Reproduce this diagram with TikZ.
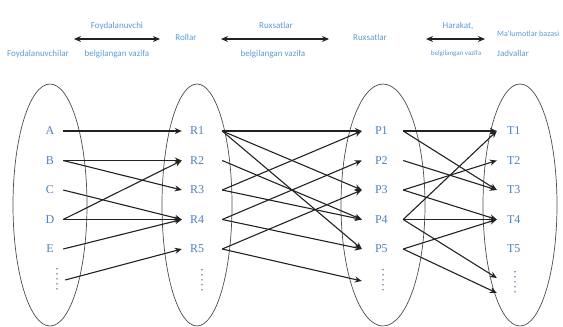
\documentclass[tikz,border=0pt]{standalone}
\usepackage{fontspec}
\setmainfont{Liberation Serif}
\newfontfamily\labelfont{Carlito}
\usetikzlibrary{arrows.meta, positioning}
\definecolor{cblue}{HTML}{4F81BD}
\definecolor{ctop}{HTML}{5B9BD5}
\definecolor{cline}{HTML}{222222}

\begin{document}
\begin{tikzpicture}[
  x=1pt, y=-1pt,
  >={Stealth[length=7pt, width=6pt]},
  set/.style={draw=black!70, line width=0.7pt},
  lbl/.style={font=\fontsize{12}{13}\selectfont, text=cblue, inner ysep=1pt},
  colA/.style={lbl, minimum width=26pt, inner xsep=0pt},
  colR/.style={lbl, text width=24pt, align=left, inner xsep=8pt},
  colP/.style={lbl, text width=15pt, align=left, inner xsep=13pt},
  colT/.style={lbl, text width=14pt, align=left, inner xsep=10pt},
  more/.style={inner sep=0pt, minimum height=26pt},
  dotline/.style={draw=cblue!60!gray, line width=1.5pt, line cap=round,
                  dash pattern=on 0.01pt off 5pt},
  toptxt/.style={font=\labelfont\fontsize{9}{10}\selectfont, text=ctop, inner sep=1pt},
  arr/.style={->, line width=1.1pt, draw=cline},
  duo/.style={<->, line width=1.4pt, draw=cline, >={Stealth[length=7pt, width=6pt]}},
  ]
\useasboundingbox (0,0) rectangle (563,327);

% sets
\draw[set] (50,205) ellipse (37 and 121);
\draw[set] (197,205) ellipse (35 and 121);
\draw[set] (383,205) ellipse (42 and 121);
\draw[set] (520,205) ellipse (37 and 121);

% top row
\node[toptxt] (users) at (38,54) {Foydalanuvchilar};
\node[toptxt] (roles) at (186,37) {Rollar};
\node[toptxt] (perms) at (370,37) {Ruxsatlar};
\node[toptxt, font=\labelfont\fontsize{8}{9}\selectfont, anchor=west] (db) at (496,34) {Ma'lumotlar bazasi};
\node[toptxt, anchor=west] (tables) at (496,53) {Jadvallar};
\coordinate (u1) at (74,39);  \coordinate (u2) at (160,39);
\coordinate (r1) at (221,39); \coordinate (r2) at (329,39);
\coordinate (h1) at (426,39); \coordinate (h2) at (485,39);
\draw[duo] (u1) -- (u2);
\draw[duo] (r1) -- (r2);
\draw[duo] (h1) -- (h2);
\node[toptxt] (ua) at (117,26) {Foydalanuvchi};
\node[toptxt] (ub) at (117,54) {belgilangan vazifa};
\node[toptxt] (ra) at (276,25) {Ruxsatlar};
\node[toptxt] (rb) at (273,54) {belgilangan vazifa};
\node[toptxt] (ha) at (458,26) {Harakat,};
\node[toptxt, font=\labelfont\fontsize{7}{8}\selectfont] (hb) at (456,54) {belgilangan vazifa};

% users
\node[colA] (A) at (50,131) {A};
\node[colA] (B) at (50,160.5) {B};
\node[colA] (C) at (50,190) {C};
\node[colA] (D) at (50,219.5) {D};
\node[colA] (E) at (50,249) {E};
\node[more, minimum width=16pt] (Adots) at (57,280) {};

% roles
\node[colR] (R1) at (202,131) {R1};
\node[colR] (R2) at (202,160.5) {R2};
\node[colR] (R3) at (202,190) {R3};
\node[colR] (R4) at (202,219.5) {R4};
\node[colR] (R5) at (202,249) {R5};
\node[more] (Rdots) at (202,281) {};

% permissions
\node[colP] (P1) at (382.5,131) {P1};
\node[colP] (P2) at (382.5,160.5) {P2};
\node[colP] (P3) at (382.5,190) {P3};
\node[colP] (P4) at (382.5,219.5) {P4};
\node[colP] (P5) at (382.5,249) {P5};
\node[more, minimum width=42pt] (Pdots) at (383,281) {};

% tables
\node[colT] (T1) at (514,131) {T1};
\node[colT] (T2) at (514,160.5) {T2};
\node[colT] (T3) at (514,190) {T3};
\node[colT] (T4) at (514,219.5) {T4};
\node[colT] (T5) at (514,249) {T5};
\node[more, minimum width=36pt] (Tdots) at (515,283) {};

% vertical dots
\draw[dotline] ([yshift=-2pt]Adots.north) -- (Adots.south);
\draw[dotline] ([yshift=-2pt]Rdots.north) -- (Rdots.south);
\draw[dotline] ([yshift=-2pt]Pdots.north) -- (Pdots.south);
\draw[dotline] ([yshift=-2pt]Tdots.north) -- (Tdots.south);

% users -> roles
\draw[arr] (A.east) -- (R1.west);
\draw[arr] (B.east) -- (R2.west);
\draw[arr] (B.east) -- (R3.west);
\draw[arr] (C.east) -- (R4.west);
\draw[arr] (D.east) -- (R2.west);
\draw[arr] (D.east) -- (R4.west);
\draw[arr] (E.east) -- (R4.west);
\draw[arr] (Adots.east) -- (R5.west);

% roles -> permissions
\draw[arr] (R1.east) -- (P1.west);
\draw[arr] (R1.east) -- (P3.west);
\draw[arr] (R1.east) -- (P5.west);
\draw[arr] (R2.east) -- (P4.west);
\draw[arr] (R3.east) -- (P1.west);
\draw[arr] (R3.east) -- (P4.west);
\draw[arr] (R4.east) -- (P2.west);
\draw[arr] (R4.east) -- (P5.west);
\draw[arr] (R5.east) -- (P3.west);
\draw[arr] (R5.east) -- (Pdots.west);

% permissions -> tables
\draw[arr] (P1.east) -- (T1.west);
\draw[arr] (P1.east) -- (T3.west);
\draw[arr] (P2.east) -- (T3.west);
\draw[arr] (P3.east) -- (T2.west);
\draw[arr] (P3.east) -- (T4.west);
\draw[arr] (P4.east) -- (T1.west);
\draw[arr] (P4.east) -- (T4.west);
\draw[arr] (P4.east) -- ([yshift=5pt]Tdots.west);
\draw[arr] (P5.east) -- (T4.west);
\draw[arr] (P5.east) -- ([yshift=-10pt]Tdots.west);
\end{tikzpicture}
\end{document}
